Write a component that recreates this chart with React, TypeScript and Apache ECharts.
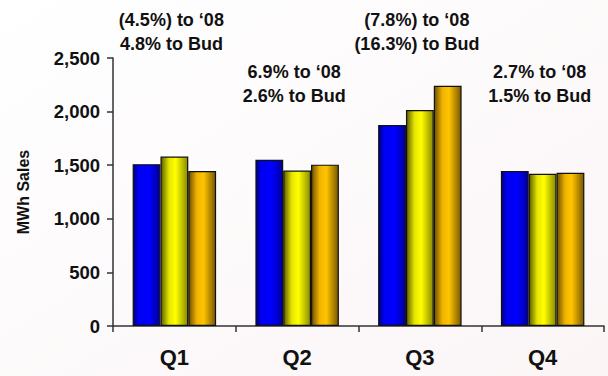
import React, { useEffect, useRef } from "react";
import * as echarts from "echarts";

const categories = ["Q1", "Q2", "Q3", "Q4"];
const actual2009 = [1510, 1550, 1875, 1445];
const actual2008 = [1580, 1450, 2015, 1420];
const budget = [1445, 1505, 2240, 1430];
const yTicks = { min: 0, max: 2500, interval: 500 };
const noteLine1 = ["(4.5%) to \u201808", "6.9% to \u201808", "(7.8%) to \u201808", "2.7% to \u201808"];
const noteLine2 = ["4.8% to Bud", "2.6% to Bud", "(16.3%) to Bud", "1.5% to Bud"];
const noteHigh = [true, false, true, false];

const FONT = "'Liberation Sans', Arial, sans-serif";

function grad(stops: [number, string][]) {
  return new echarts.graphic.LinearGradient(
    0, 0, 1, 0,
    stops.map(([offset, color]) => ({ offset, color }))
  );
}

export default function App() {
  const ref = useRef<HTMLDivElement>(null);
  useEffect(() => {
    if (!ref.current) return;
    const chart = echarts.init(ref.current, undefined, { renderer: "svg" });
    const barStyle = (stops: [number, string][]) => ({
      color: grad(stops),
      borderColor: "#111",
      borderWidth: 1.2,
    });
    chart.setOption({
      animation: false,
      backgroundColor: new echarts.graphic.LinearGradient(0, 0, 1, 1, [
        { offset: 0, color: "#ffffff" },
        { offset: 1, color: "#fbf5f6" },
      ]),
      grid: { left: 113, right: 4, top: 58, bottom: 50 },
      xAxis: {
        type: "category",
        data: categories,
        axisLine: { lineStyle: { color: "#333", width: 1.5 } },
        axisTick: { show: true, length: 6, lineStyle: { color: "#333", width: 1.5 } },
        axisLabel: {
          color: "#111",
          fontFamily: FONT,
          fontWeight: "bold",
          fontSize: 22,
          margin: 20,
        },
      },
      yAxis: {
        type: "value",
        min: yTicks.min,
        max: yTicks.max,
        interval: yTicks.interval,
        name: "MWh Sales",
        nameLocation: "middle",
        nameGap: 82,
        nameRotate: 90,
        nameTextStyle: {
          color: "#111",
          fontFamily: FONT,
          fontWeight: "bold",
          fontSize: 16,
        },
        splitLine: { show: false },
        axisLine: { show: true, lineStyle: { color: "#333", width: 1.5 } },
        axisTick: { show: true, length: 6, lineStyle: { color: "#333", width: 1.5 } },
        axisLabel: {
          color: "#111",
          fontFamily: FONT,
          fontWeight: "bold",
          fontSize: 18.5,
          margin: 13,
          formatter: (v: number) => v.toLocaleString("en-US"),
        },
      },
      series: [
        {
          type: "bar",
          data: actual2009,
          barGap: "0%",
          barCategoryGap: "32%",
          itemStyle: barStyle([
            [0, "#000080"],
            [0.2, "#0000f0"],
            [0.6, "#0000ff"],
            [1, "#00009a"],
          ]),
        },
        {
          type: "bar",
          data: actual2008,
          itemStyle: barStyle([
            [0, "#5e5e00"],
            [0.3, "#e6e600"],
            [0.55, "#ffff00"],
            [1, "#8a8a00"],
          ]),
        },
        {
          type: "bar",
          data: budget,
          itemStyle: barStyle([
            [0, "#6e5000"],
            [0.3, "#f0b400"],
            [0.55, "#ffc400"],
            [1, "#7a5800"],
          ]),
        },
      ],
    });
    const graphics = categories.map((c, i) => {
      const px = chart.convertToPixel({ xAxisIndex: 0 }, c) as number;
      const y = noteHigh[i] ? 8 : 60;
      return {
        type: "text",
        x: px - 3,
        y,
        style: {
          text: noteLine1[i] + "\n" + noteLine2[i],
          fontFamily: FONT,
          fontWeight: "bold",
          fontSize: 18,
          lineHeight: 24,
          fill: "#111",
          align: "center",
          verticalAlign: "top",
        },
      };
    });
    chart.setOption({ graphic: graphics });
    return () => chart.dispose();
  }, []);
  return (
    <div
      ref={ref}
      style={{ position: "fixed", left: 0, top: 0, width: 608, height: 376 }}
    />
  );
}
